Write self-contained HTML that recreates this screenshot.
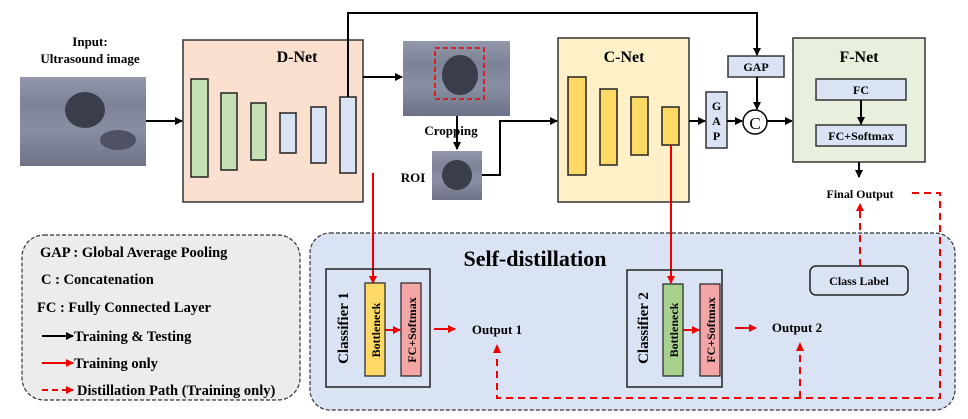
<!DOCTYPE html>
<html><head><meta charset="utf-8"><style>html,body{margin:0;padding:0;background:#fff}svg{display:block}text{font-family:"Liberation Serif",serif;font-weight:bold}</style></head><body>
<svg width="968" height="419" viewBox="0 0 968 419" xmlns="http://www.w3.org/2000/svg">
<defs>
<marker id="ab" markerWidth="8" markerHeight="8" refX="7" refY="4" orient="auto" markerUnits="userSpaceOnUse"><path d="M0,0L8,4L0,8z" fill="#000"/></marker>
<marker id="ar" markerWidth="8" markerHeight="8" refX="7" refY="4" orient="auto" markerUnits="userSpaceOnUse"><path d="M0,0L8,4L0,8z" fill="#e00"/></marker>
<linearGradient id="us" x1="0" y1="0" x2="0" y2="1"><stop offset="0" stop-color="#9398ab"/><stop offset="0.3" stop-color="#7d8297"/><stop offset="0.6" stop-color="#8a8ea2"/><stop offset="1" stop-color="#6e7287"/></linearGradient>
</defs>
<!-- Input -->
<text x="90" y="46" font-size="13" text-anchor="middle">Input:</text>
<text x="90" y="63" font-size="13" text-anchor="middle">Ultrasound image</text>
<rect x="20" y="77" width="126" height="89" fill="url(#us)"/>
<ellipse cx="85" cy="110" rx="20" ry="18" fill="#3a3d4a"/>
<ellipse cx="118" cy="140" rx="18" ry="10" fill="#4e5264"/>
<line x1="146" y1="121" x2="182" y2="121" stroke="#000" stroke-width="2" marker-end="url(#ab)"/>
<!-- D-Net -->
<rect x="183" y="40" width="180" height="162" fill="#fbe0d0" stroke="#333" stroke-width="1.5"/>
<text x="297" y="62" font-size="16" text-anchor="middle">D-Net</text>
<g stroke="#222" stroke-width="1.5">
<rect x="191" y="79" width="17" height="98" fill="#c5e0b4"/>
<rect x="221" y="93" width="16" height="77" fill="#c5e0b4"/>
<rect x="251" y="103" width="15" height="57" fill="#c5e0b4"/>
<rect x="280" y="113" width="16" height="40" fill="#dae3f3"/>
<rect x="311" y="107" width="15" height="56" fill="#dae3f3"/>
<rect x="340" y="97" width="16" height="76" fill="#dae3f3"/>
</g>
<polyline points="348,97 348,13 757,13 757,55" fill="none" stroke="#000" stroke-width="2" marker-end="url(#ab)"/>
<line x1="363" y1="77" x2="402" y2="77" stroke="#000" stroke-width="2" marker-end="url(#ab)"/>
<rect x="403" y="41" width="107" height="75" fill="url(#us)"/>
<ellipse cx="460" cy="75" rx="18" ry="20" fill="#3a3d4a"/>
<rect x="435" y="48" width="49" height="51" fill="none" stroke="#e00" stroke-width="1.5" stroke-dasharray="5,3"/>
<line x1="457" y1="116" x2="457" y2="149" stroke="#000" stroke-width="2" marker-end="url(#ab)"/>
<text x="451" y="135" font-size="13" text-anchor="middle">Cropping</text>
<text x="413" y="182" font-size="13" text-anchor="middle">ROI</text>
<rect x="432" y="151" width="50" height="49" fill="url(#us)"/>
<ellipse cx="457" cy="175" rx="15" ry="15" fill="#3a3d4a"/>
<polyline points="482,175 500,175 500,121 557,121" fill="none" stroke="#000" stroke-width="2" marker-end="url(#ab)"/>
<!-- C-Net -->
<rect x="558" y="38" width="131" height="164" fill="#fff0c8" stroke="#333" stroke-width="1.5"/>
<text x="624" y="62" font-size="16" text-anchor="middle">C-Net</text>
<g stroke="#222" stroke-width="1.5" fill="#ffd966">
<rect x="568" y="77" width="18" height="98"/>
<rect x="600" y="89" width="17" height="76"/>
<rect x="631" y="97" width="17" height="58"/>
<rect x="662" y="107" width="17" height="38"/>
</g>
<line x1="689" y1="121" x2="705" y2="121" stroke="#000" stroke-width="2" marker-end="url(#ab)"/>
<rect x="706" y="92" width="21" height="56" fill="#dae3f3" stroke="#333" stroke-width="1.5"/>
<text x="716.5" y="110" font-size="12" text-anchor="middle">G</text>
<text x="716.5" y="125" font-size="12" text-anchor="middle">A</text>
<text x="716.5" y="140" font-size="12" text-anchor="middle">P</text>
<line x1="727" y1="121" x2="742" y2="121" stroke="#000" stroke-width="2" marker-end="url(#ab)"/>
<rect x="728" y="56" width="56" height="21" fill="#dae3f3" stroke="#333" stroke-width="1.5"/>
<text x="756" y="71" font-size="12" text-anchor="middle">GAP</text>
<line x1="757" y1="77" x2="757" y2="109" stroke="#000" stroke-width="2" marker-end="url(#ab)"/>
<circle cx="755" cy="122" r="12" fill="#fff" stroke="#000" stroke-width="1.5"/>
<text x="755" y="129" font-size="17" text-anchor="middle" style="font-weight:normal">C</text>
<line x1="767" y1="121" x2="792" y2="121" stroke="#000" stroke-width="2" marker-end="url(#ab)"/>
<!-- F-Net -->
<rect x="793" y="38" width="132" height="124" fill="#e6f0dc" stroke="#333" stroke-width="1.5"/>
<text x="859" y="62" font-size="16" text-anchor="middle">F-Net</text>
<rect x="816" y="79" width="90" height="21" fill="#dae3f3" stroke="#333" stroke-width="1.5"/>
<text x="861" y="94" font-size="12" text-anchor="middle">FC</text>
<line x1="861" y1="100" x2="861" y2="124" stroke="#000" stroke-width="2" marker-end="url(#ab)"/>
<rect x="816" y="125" width="90" height="21" fill="#dae3f3" stroke="#333" stroke-width="1.5"/>
<text x="861" y="140" font-size="12" text-anchor="middle">FC+Softmax</text>
<line x1="859" y1="162" x2="859" y2="177" stroke="#000" stroke-width="2" marker-end="url(#ab)"/>
<text x="860" y="198" font-size="12" text-anchor="middle">Final Output</text>
<!-- Legend -->
<rect x="22" y="235" width="278" height="165" rx="22" fill="#ececec" stroke="#333" stroke-width="1.2" stroke-dasharray="4,2"/>
<text x="40" y="257" font-size="14.5">GAP :  Global Average Pooling</text>
<text x="41" y="284" font-size="14.5">C :  Concatenation</text>
<text x="37" y="312" font-size="14.5">FC :  Fully Connected Layer</text>
<line x1="42" y1="336" x2="73" y2="336" stroke="#000" stroke-width="2" marker-end="url(#ab)"/>
<text x="74" y="341" font-size="14.5">Training &amp; Testing</text>
<line x1="42" y1="363" x2="73" y2="363" stroke="#e00" stroke-width="2" marker-end="url(#ar)"/>
<text x="74" y="368" font-size="14.5">Training only</text>
<line x1="42" y1="390" x2="73" y2="390" stroke="#e00" stroke-width="2" stroke-dasharray="6,4" marker-end="url(#ar)"/>
<text x="77" y="395" font-size="14.5">Distillation Path (Training only)</text>
<!-- Self-distillation -->
<rect x="310" y="233" width="645" height="177" rx="20" fill="#dae3f3" stroke="#333" stroke-width="1.2" stroke-dasharray="4,2"/>
<text x="535" y="266" font-size="22" text-anchor="middle">Self-distillation</text>
<line x1="373" y1="173" x2="373" y2="283" stroke="#e00" stroke-width="2" marker-end="url(#ar)"/>
<line x1="671" y1="145" x2="671" y2="283" stroke="#e00" stroke-width="2" marker-end="url(#ar)"/>
<rect x="326" y="269" width="104" height="118" fill="none" stroke="#222" stroke-width="1.5"/>
<text transform="translate(348,328) rotate(-90)" font-size="15" text-anchor="middle">Classifier 1</text>
<rect x="365" y="283" width="20" height="93" fill="#ffd966" stroke="#222" stroke-width="1.2"/>
<text transform="translate(380,330) rotate(-90)" font-size="12" text-anchor="middle">Bottleneck</text>
<rect x="401" y="283" width="20" height="93" fill="#f4a6a6" stroke="#222" stroke-width="1.2"/>
<text transform="translate(416,330) rotate(-90)" font-size="12" text-anchor="middle">FC+Softmax</text>
<line x1="385" y1="330" x2="400" y2="330" stroke="#e00" stroke-width="2" marker-end="url(#ar)"/>
<line x1="434" y1="329" x2="455" y2="329" stroke="#e00" stroke-width="2" marker-end="url(#ar)"/>
<text x="497" y="334" font-size="13" text-anchor="middle">Output 1</text>
<rect x="627" y="270" width="95" height="117" fill="none" stroke="#222" stroke-width="1.5"/>
<text transform="translate(648,328) rotate(-90)" font-size="15" text-anchor="middle">Classifier 2</text>
<rect x="663" y="284" width="20" height="92" fill="#a9d18e" stroke="#222" stroke-width="1.2"/>
<text transform="translate(678,330) rotate(-90)" font-size="12" text-anchor="middle">Bottleneck</text>
<rect x="700" y="284" width="20" height="92" fill="#f4a6a6" stroke="#222" stroke-width="1.2"/>
<text transform="translate(715,330) rotate(-90)" font-size="12" text-anchor="middle">FC+Softmax</text>
<line x1="683" y1="330" x2="699" y2="330" stroke="#e00" stroke-width="2" marker-end="url(#ar)"/>
<line x1="735" y1="328" x2="756" y2="328" stroke="#e00" stroke-width="2" marker-end="url(#ar)"/>
<text x="797" y="332" font-size="13" text-anchor="middle">Output 2</text>
<rect x="810" y="266" width="98" height="29" rx="6" fill="#dae3f3" stroke="#222" stroke-width="1.5"/>
<text x="859" y="285" font-size="12" text-anchor="middle">Class Label</text>
<!-- distillation dashed -->
<g fill="none" stroke="#e00" stroke-width="2" stroke-dasharray="7,5">
<line x1="860" y1="266" x2="860" y2="209"/>
<polyline points="912,193 940,193 940,398 497,398 497,354"/>
<line x1="800" y1="398" x2="800" y2="352"/>
</g>
<path d="M860,203l-4,8h8z" fill="#e00"/>
<path d="M497,344l-4,9h8z" fill="#e00"/>
<path d="M800,342l-4,9h8z" fill="#e00"/>
</svg>
</body></html>
